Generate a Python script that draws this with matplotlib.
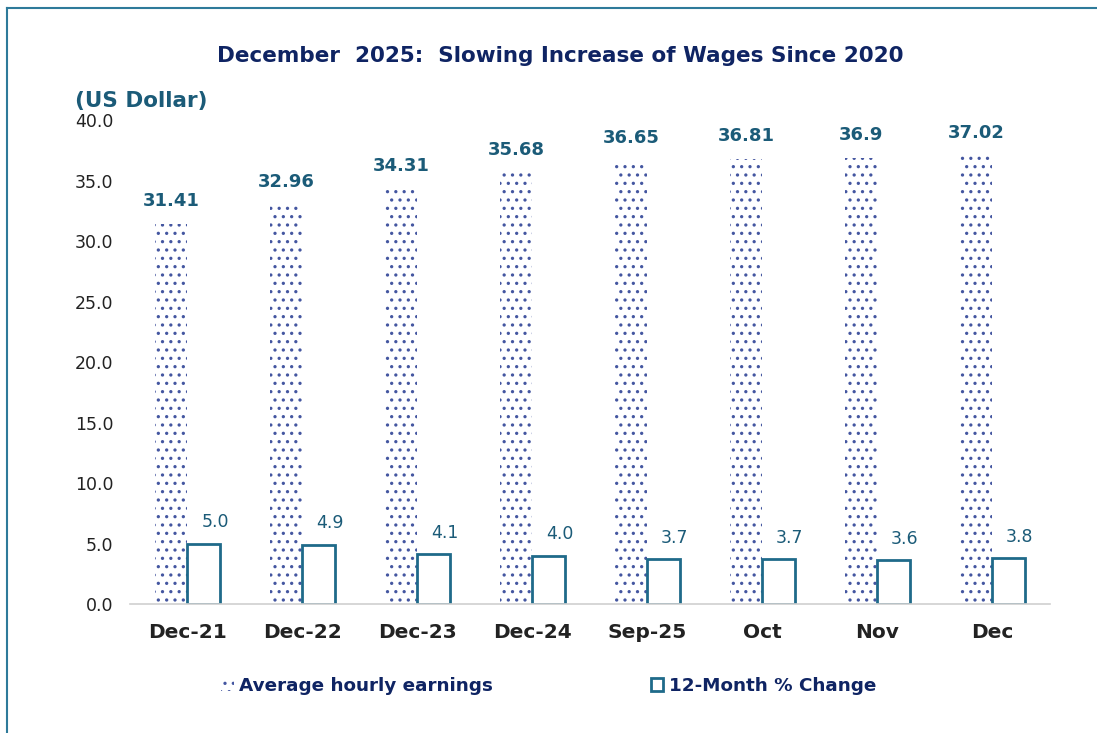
import matplotlib
matplotlib.use('Agg')
import matplotlib.pyplot as plt
from matplotlib.lines import Line2D
import numpy as np

categories = ['Dec-21', 'Dec-22', 'Dec-23', 'Dec-24', 'Sep-25', 'Oct', 'Nov', 'Dec']
earnings = [31.41, 32.96, 34.31, 35.68, 36.65, 36.81, 36.9, 37.02]
earnings_labels = ['31.41', '32.96', '34.31', '35.68', '36.65', '36.81', '36.9', '37.02']
pct_change = [5.0, 4.9, 4.1, 4.0, 3.7, 3.7, 3.6, 3.8]

navy = '#0F2463'
teal = '#1B5B78'
edge = '#1F6A8A'
dots = '#4456A0'

plt.rcParams['font.family'] = 'DejaVu Sans'
plt.rcParams['hatch.linewidth'] = 1.15

fig = plt.figure(figsize=(10.97, 7.33), dpi=100)
ax = fig.add_axes([0.1185, 0.176, 0.8385, 0.66])

x = np.arange(len(categories))
w = 0.285
b1 = ax.bar(x - w / 2, earnings, w, facecolor='white', edgecolor=dots,
            hatch='..', linewidth=0, label='Average hourly earnings')
b2 = ax.bar(x + w / 2, pct_change, w, facecolor='white', edgecolor=edge,
            linewidth=2, label='12-Month % Change')

for xi, v, t in zip(x, earnings, earnings_labels):
    ax.annotate(t, (xi - w / 2, v), xytext=(0, 10), textcoords='offset points',
                ha='center', va='bottom', fontsize=13, fontweight='bold', color=teal)
for xi, v in zip(x, pct_change):
    ax.annotate('%.1f' % v, (xi + w / 2, v), xytext=(8, 9), textcoords='offset points',
                ha='center', va='bottom', fontsize=12.5, color=teal)

ax.set_xlim(-0.5, len(categories) - 0.5)
ax.set_ylim(0, 40)
ax.set_yticks(np.arange(0, 41, 5))
ax.set_yticklabels(['%.1f' % t for t in np.arange(0, 41, 5)], fontsize=12.5, color='#222222')
ax.set_xticks(x)
ax.set_xticklabels(categories, fontsize=14.5, fontweight='bold', color='#222222')
ax.tick_params(length=0)
ax.tick_params(axis='x', pad=14)
ax.tick_params(axis='y', pad=12)
for s in ['top', 'right', 'left']:
    ax.spines[s].set_visible(False)
ax.spines['bottom'].set_color('#D0D0D0')
ax.spines['bottom'].set_linewidth(1.2)

fig.text(0.511, 0.923, 'December  2025:  Slowing Increase of Wages Since 2020',
         ha='center', va='center', fontsize=15.5, fontweight='bold', color=navy)
fig.text(0.068, 0.862, '(US Dollar)', ha='left', va='center', fontsize=15.5,
         fontweight='bold', color=teal)

leg = fig.legend(handles=[b1, b2], loc='center', bbox_to_anchor=(0.5, 0.064), ncol=2,
                 frameon=False, fontsize=13.2, columnspacing=8.6, handlelength=0.7,
                 handleheight=0.7, handletextpad=0.3)
for t in leg.get_texts():
    t.set_fontweight('bold')
    t.set_color(navy)

fig.add_artist(Line2D([0.0068, 0.0068], [0, 1 - 8 / 733], color='#2E7A9A', lw=1.5))
fig.add_artist(Line2D([0.0068, 1], [1 - 8 / 733, 1 - 8 / 733], color='#2E7A9A', lw=1.5))

fig.savefig('out.png', dpi=100)
